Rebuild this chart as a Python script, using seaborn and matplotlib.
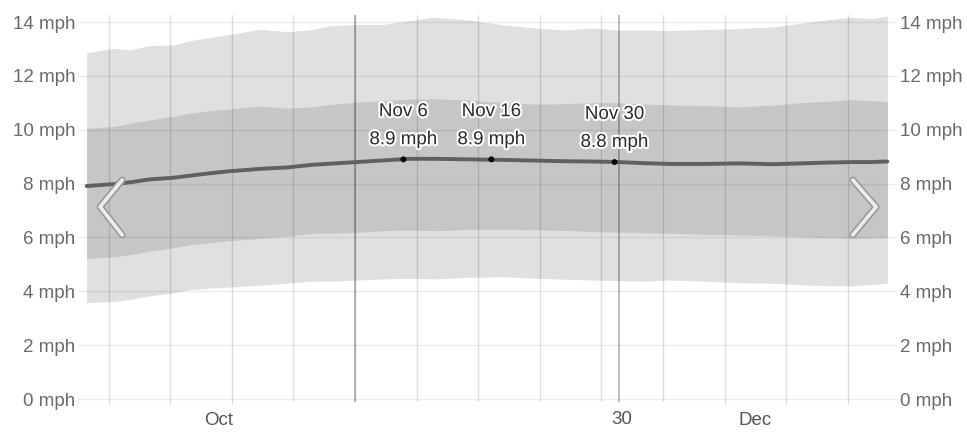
import numpy as np
import pandas as pd
import matplotlib
matplotlib.use('Agg')
import matplotlib.pyplot as plt
import matplotlib.patheffects as pe
from matplotlib.patches import Rectangle
import matplotlib.transforms as mtransforms
import seaborn as sns

# day of period (0 = Oct 1 midnight)
days = [0.5, 3.5, 5.5, 7.5, 10.4, 12.4, 14.4, 16.4, 20.3, 23.3, 26.2, 28.2,
        31.2, 34.2, 37.1, 40.1, 44.0, 48.0, 52.0, 55.0, 58.0, 60.9, 63.8, 66.8,
        70.7, 74.7, 78.6, 81.6, 84.6, 87.5, 89.5, 91.5]
p90 = [12.86, 13.02, 12.96, 13.12, 13.15, 13.32, 13.42, 13.52, 13.73, 13.64, 13.72, 13.86,
       13.91, 13.91, 14.05, 14.18, 14.07, 13.89, 13.76, 13.70, 13.78, 13.70, 13.70, 13.68,
       13.72, 13.76, 13.82, 13.95, 14.08, 14.18, 14.12, 14.22]
p75 = [10.05, 10.12, 10.24, 10.35, 10.50, 10.62, 10.70, 10.76, 10.88, 10.80, 10.85, 10.94,
       11.02, 11.08, 11.14, 11.15, 11.10, 11.00, 10.95, 10.97, 11.00, 11.00, 10.96, 10.92,
       10.90, 10.85, 10.92, 11.00, 11.06, 11.12, 11.08, 11.04]
p25 = [5.22, 5.28, 5.36, 5.48, 5.62, 5.74, 5.80, 5.87, 5.97, 6.05, 6.15, 6.16,
       6.19, 6.25, 6.28, 6.25, 6.30, 6.30, 6.28, 6.26, 6.22, 6.20, 6.18, 6.15,
       6.12, 6.09, 6.06, 6.03, 5.99, 5.97, 5.98, 6.00]
p10 = [3.58, 3.62, 3.70, 3.82, 3.95, 4.07, 4.12, 4.15, 4.23, 4.30, 4.38, 4.38,
       4.42, 4.46, 4.48, 4.46, 4.52, 4.54, 4.48, 4.45, 4.42, 4.40, 4.38, 4.42,
       4.38, 4.32, 4.30, 4.24, 4.21, 4.20, 4.25, 4.30]
mean = [7.91, 7.98, 8.05, 8.15, 8.22, 8.30, 8.38, 8.45, 8.55, 8.60, 8.70, 8.74,
        8.80, 8.86, 8.92, 8.92, 8.90, 8.88, 8.85, 8.83, 8.82, 8.80, 8.76, 8.73,
        8.73, 8.75, 8.72, 8.75, 8.78, 8.80, 8.80, 8.82]

hl_days = [36.5, 46.5, 60.5]
hl_vals = [8.9, 8.9, 8.8]
hl_labels = ['Nov 6', 'Nov 16', 'Nov 30']

week_lines = [3, 10, 17, 24, 31, 38, 45, 52, 59, 66, 73, 80, 87]
month_lines = [31, 61]
month_ticks = [15.5, 76.5]
month_names = ['Oct', 'Dec']
y_ticks = [0, 2, 4, 6, 8, 10, 12, 14]

df = pd.DataFrame({'day': days, 'mean': mean})

sns.set_style('white')
plt.rcParams['font.family'] = ['Liberation Sans', 'DejaVu Sans']

fig = plt.figure(figsize=(9.67, 4.32), dpi=100)
ax = fig.add_axes([78 / 967, 27 / 432, 819 / 967, 390 / 432])

ax.fill_between(days, p10, p90, color='#e0e0e0', lw=0, zorder=1)
ax.fill_between(days, p25, p75, color='#c6c6c6', lw=0, zorder=1.1)

for y in y_ticks:
    ax.axhline(y, color='black', alpha=0.07, lw=1, zorder=1.5)
for d in week_lines:
    ax.axvline(d, color='black', alpha=0.13, lw=1, zorder=1.6)
for d in month_lines:
    ax.axvline(d, color='black', alpha=0.3, lw=1.2, zorder=1.6)

sns.lineplot(data=df, x='day', y='mean', color='#606060', lw=2.8, ax=ax, zorder=3)
sns.scatterplot(x=hl_days, y=hl_vals, color='black', s=18, ax=ax, zorder=4, edgecolor='none')

for d, v, lab in zip(hl_days, hl_vals, hl_labels):
    ax.annotate(f'{lab}\n{v:.1f} mph', xy=(d, v), xytext=(0, 8), textcoords='offset points',
                ha='center', va='bottom', fontsize=13.5, color='#2a2a2a', linespacing=1.85,
                zorder=5, path_effects=[pe.withStroke(linewidth=3, foreground='white')])

# chevrons
for xs in ([0.054, 0.027, 0.054], [0.946, 0.9745, 0.946]):
    ax.plot(xs, [0.577, 0.508, 0.436], transform=ax.transAxes, color='#9a9a9a', lw=5,
            solid_capstyle='round', solid_joinstyle='round', zorder=6)
    ax.plot(xs, [0.577, 0.508, 0.436], transform=ax.transAxes, color='#ececec', lw=2.6,
            solid_capstyle='round', solid_joinstyle='round', zorder=6.1)

ax.set_xlim(-0.48, 92.6)
ax.set_ylim(-0.22, 14.26)
ax.set_yticks(y_ticks)
ax.set_yticklabels([f'{y} mph' for y in y_ticks])
ax.set_xticks(month_ticks)
ax.set_xticklabels(month_names)
ax.tick_params(axis='y', length=0, pad=2, labelsize=13.5, labelcolor='#6a6a6a',
               labelleft=True, labelright=True)
ax.tick_params(axis='x', length=0, pad=5, labelsize=13.5, labelcolor='#555555')
ax.set_xlabel('')
ax.set_ylabel('')
for s in ax.spines.values():
    s.set_visible(False)

# white box over part of the date axis, with a leftover "30"
ax.add_patch(Rectangle((290 / 967, 0), 405 / 967, 30 / 432, transform=fig.transFigure,
                       facecolor='white', edgecolor='none', zorder=10, clip_on=False))
trans = mtransforms.blended_transform_factory(ax.transData, fig.transFigure)
ax.text(61.3, 13 / 432, '30', transform=trans, ha='center', va='center', fontsize=13.5,
        color='#555555', zorder=11, clip_on=False)

fig.savefig('out.png', dpi=100, facecolor='white')
